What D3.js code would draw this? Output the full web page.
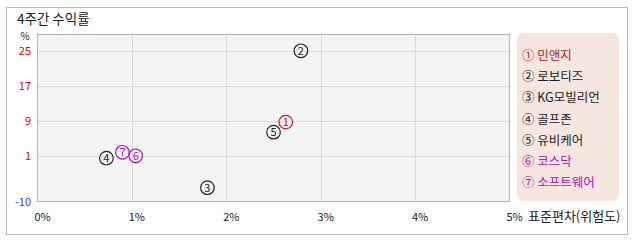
<!DOCTYPE html>
<html>
<head>
<meta charset="utf-8">
<script src="https://cdn.jsdelivr.net/npm/d3@7"></script>
<style>
  body { margin: 0; background: #fff; }
  text { font-family: "Noto Sans CJK KR", "Noto Sans", sans-serif; }
</style>
</head>
<body>
<script>
// chart data
var names = ["민앤지", "로보티즈", "KG모빌리언", "골프존", "유비케어", "코스닥", "소프트웨어"];
var marks = ["①", "②", "③", "④", "⑤", "⑥", "⑦"];
var risk = [2.63, 2.79, 1.80, 0.73, 2.50, 1.04, 0.90];     // 표준편차 %
var ret = [8.7, 25.0, -6.3, 0.45, 6.4, 1.0, 1.8];         // 4주간 수익률 %
var colors = ["#b22020", "#222", "#222", "#222", "#222", "#b010b8", "#b010b8"];
var yTicks = [25, 17, 9, 1];
var xTicks = [0, 1, 2, 3, 4, 5];

var W = 638, H = 242;
var svg = d3.select("body").append("svg")
    .attr("width", W)
    .attr("height", H);

// outer frame
svg.append("rect")
    .attr("x", 6.5).attr("y", 7.5)
    .attr("width", 621).attr("height", 227)
    .attr("fill", "#fff")
    .attr("stroke", "#bdbdbd");

svg.append("text")
    .attr("x", 17).attr("y", 24)
    .attr("font-size", 13.5)
    .attr("fill", "#222")
    .text("4주간 수익률");

var plot = {left: 37.5, right: 509.5, top: 34.5, bottom: 201.5};

var x = d3.scaleLinear().domain([0, 5]).range([plot.left, plot.right]);
var y = d3.scaleLinear().domain([-9.45, 28.73]).range([plot.bottom, plot.top]);

svg.append("rect")
    .attr("x", plot.left).attr("y", plot.top)
    .attr("width", plot.right - plot.left)
    .attr("height", plot.bottom - plot.top)
    .attr("fill", "#f4f4f4");

// grid
svg.append("g").selectAll("line")
    .data(yTicks)
    .enter().append("line")
        .attr("x1", plot.left).attr("x2", plot.right)
        .attr("y1", function(d) { return Math.round(y(d)) + 0.5; })
        .attr("y2", function(d) { return Math.round(y(d)) + 0.5; })
        .attr("stroke", "#dadada");

svg.append("g").selectAll("line")
    .data(xTicks.slice(1, -1))
    .enter().append("line")
        .attr("y1", plot.top).attr("y2", plot.bottom)
        .attr("x1", function(d) { return Math.round(x(d)) + 0.5; })
        .attr("x2", function(d) { return Math.round(x(d)) + 0.5; })
        .attr("stroke", "#dadada");

svg.append("rect")
    .attr("x", plot.left).attr("y", plot.top)
    .attr("width", plot.right - plot.left)
    .attr("height", plot.bottom - plot.top)
    .attr("fill", "none")
    .attr("stroke", "#b4b4b4");

// y labels
svg.append("g").selectAll("text")
    .data(yTicks)
    .enter().append("text")
        .attr("x", 31)
        .attr("y", function(d) { return y(d) + 4; })
        .attr("text-anchor", "end")
        .attr("font-size", 11)
        .attr("fill", "#e00000")
        .text(function(d) { return d; });

svg.append("text")
    .attr("x", 31).attr("y", y.range()[0] + 4)
    .attr("text-anchor", "end")
    .attr("font-size", 11)
    .attr("fill", "#3a3aff")
    .text("-10");

svg.append("text")
    .attr("x", 25).attr("y", 40)
    .attr("text-anchor", "middle")
    .attr("font-size", 10)
    .attr("fill", "#222")
    .text("%");

// x labels
svg.append("g").selectAll("text")
    .data(xTicks)
    .enter().append("text")
        .attr("x", function(d) { return x(d) + 5; })
        .attr("y", 221)
        .attr("text-anchor", "middle")
        .attr("font-size", 11)
        .attr("fill", "#222")
        .text(function(d) { return d + "%"; });

svg.append("text")
    .attr("x", 528).attr("y", 221)
    .attr("font-size", 13)
    .attr("fill", "#222")
    .text("표준편차(위험도)");

// points
var pts = svg.append("g").selectAll("g")
    .data(d3.range(names.length))
    .enter().append("g")
        .attr("transform", function(i) {
            return "translate(" + x(risk[i]) + "," + y(ret[i]) + ")";
        });

pts.append("circle")
    .attr("r", 6.8)
    .attr("fill", "none")
    .attr("stroke", function(i) { return colors[i]; })
    .attr("stroke-width", 1.2);

pts.append("text")
    .attr("y", 4)
    .attr("text-anchor", "middle")
    .attr("font-size", 11)
    .attr("fill", function(i) { return colors[i]; })
    .text(function(i) { return i + 1; });

// legend
svg.append("rect")
    .attr("x", 517).attr("y", 33)
    .attr("width", 102).attr("height", 168)
    .attr("rx", 6)
    .attr("fill", "#f5e7e0");

svg.append("g").selectAll("text")
    .data(d3.range(names.length))
    .enter().append("text")
        .attr("x", 522)
        .attr("y", function(i) { return 60 + i * 21.2; })
        .attr("font-size", 12.5)
        .attr("fill", function(i) { return colors[i]; })
        .text(function(i) { return marks[i] + " " + names[i]; });
</script>
</body>
</html>
